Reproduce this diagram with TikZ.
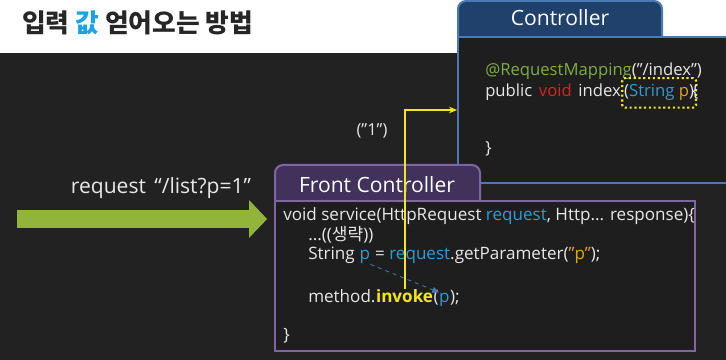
\documentclass[tikz,border=0pt]{standalone}
\usepackage{fontspec}
\setmainfont{Open Sans}
\newfontfamily\krfont{Noto Sans CJK KR}
\usepackage{tikz}
\usepackage{xcolor}
\usetikzlibrary{arrows.meta,positioning,calc,fit}
\definecolor{slidebg}{HTML}{222222}
\definecolor{boxbg}{HTML}{1E1E1E}
\definecolor{titleink}{HTML}{262626}
\definecolor{titleblue}{HTML}{1AA3E8}
\definecolor{codewhite}{HTML}{E8E8E8}
\definecolor{codeblue}{HTML}{2F9BD8}
\definecolor{codeorange}{HTML}{E8A317}
\definecolor{codered}{HTML}{D9251D}
\definecolor{annogreen}{HTML}{7FAE42}
\definecolor{callyellow}{HTML}{F2E71A}
\definecolor{ctrlline}{HTML}{4A7AB5}
\definecolor{ctrltab}{HTML}{1F416B}
\definecolor{frontline}{HTML}{7D66A3}
\definecolor{fronttab}{HTML}{41325C}
\definecolor{reqgreen}{HTML}{93B43B}
\newcommand{\codesize}{\fontsize{12.8}{15}\selectfont}
\newcommand{\ctrlsize}{\fontsize{12.5}{15}\selectfont}
\tikzset{
  ctrlTab/.style={draw=ctrlline, fill=ctrltab, line width=1.5pt, rounded corners=6pt, inner sep=0pt},
  ctrlBody/.style={draw=ctrlline, fill=boxbg, line width=1.5pt, inner sep=0pt},
  frontTab/.style={draw=frontline, fill=fronttab, line width=1.5pt, rounded corners=6pt, inner sep=0pt},
  frontBody/.style={draw=frontline, fill=boxbg, line width=1.8pt, inner sep=0pt},
  tabLabel/.style={text=white, font=\fontsize{15.8}{18}\selectfont},
  codeLine/.style={text=codewhite, font=\codesize, inner sep=0pt, anchor=base west},
  codeNext/.style={text=codewhite, font=\codesize, inner sep=0pt, anchor=base west},
  ctrlLine/.style={codeLine, font=\ctrlsize},
  paramBox/.style={draw=callyellow, line width=1.6pt, dotted, rounded corners=2pt, inner xsep=1.5pt, inner ysep=5pt},
  reqArrow/.style={-{Triangle[length=13.5pt, width=27.5pt]}, line width=13.5pt, draw=reqgreen},
  callArrow/.style={-{Stealth[length=6pt, width=5pt]}, line width=1.5pt, draw=callyellow},
  passArrow/.style={-{Triangle[length=5pt, width=4.5pt]}, dashed, line width=0.6pt, draw=ctrlline}
}

\begin{document}
\begin{tikzpicture}[x=0.75pt,y=-0.75pt]
  \useasboundingbox (0,0) rectangle (726,360);
  \fill[white] (0,0) rectangle (726,53);
  \fill[slidebg] (0,53) rectangle (726,360);
  \node[anchor=base west, inner sep=0pt, text=titleink, font=\krfont\bfseries\fontsize{19.3}{22}\selectfont] (title) at (22,33)
    {입력 \textcolor{titleblue}{값} 얻어오는 방법};

  \node[ctrlTab, fit={(458,1) (662,50)}] (ctrlTab) {};
  \node[ctrlBody, fit={(458,37) (745,183)}] (ctrl) {};
  \node[tabLabel] at (560,18) {Controller};
  \node[ctrlLine] (mapping) at (485,76) {\textcolor{annogreen}{@RequestMapping}(”/index”)};
  \node[ctrlLine] (sigHead) at (485,97) {public\hspace{0.4em}\textcolor{codered}{void}\hspace{0.4em}index};
  \node[ctrlLine, paramBox] (param) at (sigHead.base east) {(\textcolor{codeblue}{String} \textcolor{codeorange}{p})};
  \node[ctrlLine] (sigBrace) at ([xshift=-4pt]param.base east) {\{};
  \node[ctrlLine] (ctrlEnd) at (485,154) {\}};

  \node[frontTab, fit={(275,165) (480,215)}] (frontTab) {};
  \node[frontBody, fit={(275,201) (695,351)}] (front) {};
  \node[tabLabel] at (377,185) {Front Controller};
  \node[codeLine] (service) at (283,221) {void service(HttpRequest \textcolor{codeblue}{request}, Http... response)\{};
  \node[codeLine] (omit) at (308,240) {...(({\krfont 생략}))};
  \node[codeLine] (strType) at (308,260) {String\ \mbox{}};
  \node[codeNext, text=codeblue] (strP) at (strType.base east) {p};
  \node[codeNext] (getParam) at (strP.base east) {\ = \textcolor{codeblue}{request}.getParameter(\textcolor{codeorange}{”p”});};
  \node[codeLine] (method) at (308,302) {method.};
  \node[codeNext, text=callyellow, font=\codesize\bfseries] (invoke) at (method.base east) {invoke};
  \node[codeNext] (openParen) at (invoke.base east) {(};
  \node[codeNext, text=codeblue] (invP) at (openParen.base east) {p};
  \node[codeNext] (closeParen) at (invP.base east) {);};
  \node[codeLine] (serviceEnd) at (283,340) {\}};

  \coordinate (reqStart) at (17,219);
  \draw[reqArrow, shorten >=5pt] (reqStart) -- (reqStart -| front.west);
  \node[text=codewhite, font=\fontsize{15.8}{18}\selectfont] (reqLabel) at (161,188) {request\hspace{0.4em}“/list?p=1”};

  \draw[passArrow] (strP.south east) -- (invP.north west);
  \draw[callArrow] (invoke.north) |- (ctrl.west);
  \node[text=codewhite, font=\fontsize{12.4}{14}\selectfont] (argLabel) at (372,131) {(”1”)};
\end{tikzpicture}
\end{document}
